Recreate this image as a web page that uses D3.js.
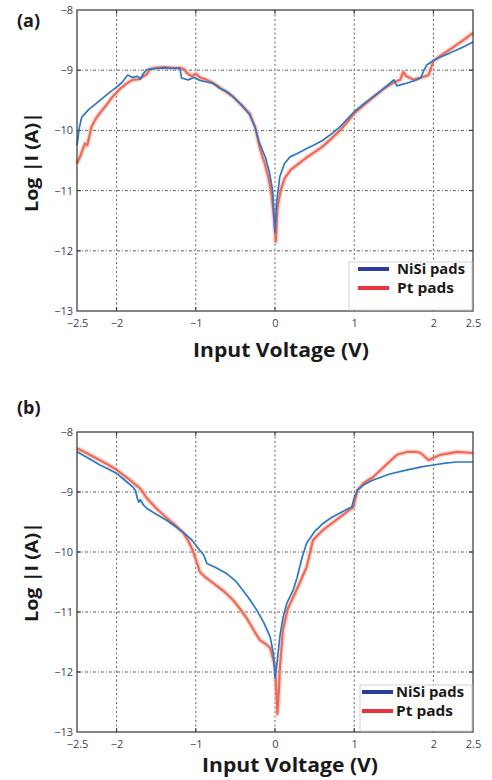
<!DOCTYPE html>
<html>
<head>
<meta charset="utf-8">
<script src="https://cdn.jsdelivr.net/npm/d3@7/dist/d3.min.js"></script>
<style>
html,body{margin:0;padding:0;background:#fff;}
svg{display:block;}
text{font-family:"Open Sans","DejaVu Sans",sans-serif;}
</style>
</head>
<body>
<svg id="chart" width="492" height="780"></svg>
<script>
// ---------- DATA ----------
const xTicks = [-2.5, -2, -1, 0, 1, 2, 2.5];
const yTicks = [-8, -9, -10, -11, -12, -13];
const xGrid = [-2, -1, 0, 1, 2];
const yGrid = [-9, -10, -11, -12];
const seriesNames = ["NiSi pads", "Pt pads"];

// Panel (a)
const aNiSiV = [-2.5,-2.47,-2.44,-2.35,-2.21,-2.1,-2.0,-1.93,-1.86,-1.8,-1.74,-1.7,-1.66,-1.62,-1.5,-1.4,-1.3,-1.2,-1.18,-1.1,-1.02,-0.95,-0.85,-0.78,-0.7,-0.6,-0.53,-0.42,-0.32,-0.25,-0.2,-0.12,-0.07,-0.03,0.0,0.02,0.06,0.12,0.19,0.3,0.4,0.5,0.61,0.72,0.82,0.9,1.0,1.12,1.24,1.38,1.5,1.54,1.65,1.75,1.84,1.88,1.92,2.0,2.09,2.2,2.3,2.4,2.5];
const aNiSiI = [-10.25,-9.95,-9.78,-9.65,-9.5,-9.38,-9.28,-9.2,-9.08,-9.12,-9.1,-9.15,-9.05,-8.99,-8.97,-8.96,-8.97,-8.97,-9.13,-9.16,-9.12,-9.17,-9.2,-9.22,-9.3,-9.36,-9.44,-9.58,-9.74,-9.95,-10.2,-10.45,-10.7,-11.0,-11.7,-11.2,-10.77,-10.55,-10.44,-10.37,-10.3,-10.24,-10.16,-10.05,-9.94,-9.83,-9.69,-9.56,-9.44,-9.3,-9.16,-9.26,-9.22,-9.18,-9.13,-9.0,-8.91,-8.84,-8.78,-8.72,-8.66,-8.6,-8.53];
const aPtV = [-2.5,-2.45,-2.4,-2.37,-2.32,-2.26,-2.21,-2.13,-2.05,-1.95,-1.87,-1.8,-1.72,-1.66,-1.62,-1.58,-1.5,-1.4,-1.3,-1.2,-1.15,-1.11,-1.05,-1.0,-0.95,-0.88,-0.8,-0.74,-0.65,-0.53,-0.43,-0.32,-0.25,-0.19,-0.13,-0.08,-0.04,-0.01,0.01,0.03,0.07,0.12,0.2,0.3,0.4,0.5,0.6,0.7,0.82,0.9,1.0,1.12,1.24,1.38,1.5,1.58,1.62,1.66,1.75,1.85,1.94,2.0,2.1,2.26,2.4,2.5];
const aPtI = [-10.55,-10.4,-10.22,-10.25,-9.95,-9.8,-9.71,-9.58,-9.44,-9.3,-9.22,-9.16,-9.15,-9.1,-9.07,-8.98,-8.96,-8.95,-8.96,-8.96,-8.98,-9.05,-9.1,-9.06,-9.12,-9.15,-9.2,-9.25,-9.33,-9.44,-9.57,-9.72,-9.95,-10.3,-10.55,-10.8,-11.1,-11.5,-11.85,-11.3,-11.0,-10.8,-10.65,-10.55,-10.45,-10.36,-10.27,-10.15,-10.0,-9.88,-9.72,-9.58,-9.45,-9.3,-9.2,-9.16,-9.03,-9.1,-9.16,-9.12,-9.08,-8.85,-8.75,-8.61,-8.48,-8.38];

// Panel (b)
const bNiSiV = [-2.5,-2.35,-2.21,-2.1,-2.0,-1.9,-1.8,-1.76,-1.74,-1.72,-1.7,-1.66,-1.62,-1.5,-1.37,-1.26,-1.16,-1.05,-0.95,-0.9,-0.86,-0.75,-0.61,-0.5,-0.44,-0.33,-0.23,-0.14,-0.06,-0.02,0.0,0.03,0.06,0.1,0.15,0.23,0.28,0.34,0.4,0.5,0.61,0.72,0.82,0.92,0.97,1.0,1.04,1.12,1.24,1.45,1.67,1.85,2.0,2.15,2.3,2.5];
const bNiSiI = [-8.33,-8.44,-8.55,-8.62,-8.69,-8.8,-8.91,-8.98,-9.1,-9.17,-9.13,-9.22,-9.27,-9.37,-9.47,-9.57,-9.67,-9.8,-9.97,-10.05,-10.19,-10.26,-10.36,-10.48,-10.58,-10.77,-10.97,-11.18,-11.42,-11.7,-12.1,-11.8,-11.42,-11.1,-10.85,-10.63,-10.42,-10.1,-9.85,-9.66,-9.52,-9.42,-9.35,-9.28,-9.25,-9.1,-8.97,-8.88,-8.8,-8.7,-8.63,-8.58,-8.55,-8.52,-8.5,-8.5];
const bPtV = [-2.5,-2.35,-2.21,-2.1,-2.0,-1.85,-1.71,-1.66,-1.62,-1.5,-1.37,-1.26,-1.16,-1.1,-1.04,-0.98,-0.95,-0.88,-0.78,-0.65,-0.53,-0.44,-0.35,-0.27,-0.19,-0.12,-0.06,0.0,0.02,0.03,0.05,0.06,0.1,0.16,0.23,0.3,0.4,0.48,0.61,0.72,0.82,0.92,0.99,1.04,1.12,1.24,1.4,1.54,1.67,1.78,1.84,1.94,2.0,2.09,2.3,2.5];
const bPtI = [-8.27,-8.37,-8.47,-8.55,-8.63,-8.78,-8.93,-9.02,-9.1,-9.27,-9.43,-9.55,-9.68,-9.8,-9.97,-10.2,-10.33,-10.42,-10.52,-10.65,-10.8,-10.95,-11.12,-11.3,-11.47,-11.53,-11.6,-11.9,-12.4,-12.7,-12.3,-11.97,-11.3,-10.95,-10.75,-10.55,-10.25,-9.8,-9.63,-9.52,-9.42,-9.32,-9.25,-8.97,-8.85,-8.75,-8.55,-8.38,-8.33,-8.33,-8.35,-8.47,-8.43,-8.38,-8.33,-8.35];

// ---------- DRAW ----------
const svg = d3.select("#chart");
const fmt = v => (v < 0 ? "\u2212" : "") + Math.abs(v);

function zip(xs, ys) { return xs.map((x, i) => [x, ys[i]]); }

function drawPanel(cfg) {
  const x = d3.scaleLinear().domain([-2.5, 2.5]).range([77, 473]);
  const y = d3.scaleLinear().domain([-13, -8]).range([cfg.bottom, cfg.top]);
  const g = svg.append("g");

  // plot background
  g.append("rect").attr("x", x(-2.5)).attr("y", y(-8))
    .attr("width", x(2.5) - x(-2.5)).attr("height", y(-13) - y(-8))
    .attr("fill", "#fff");

  // grid
  g.selectAll(".vg").data(xGrid).join("line")
    .attr("x1", d => x(d)).attr("x2", d => x(d))
    .attr("y1", y(-8)).attr("y2", y(-13))
    .attr("stroke", "#222").attr("stroke-width", 1)
    .attr("stroke-dasharray", "2,2.5").attr("opacity", 0.7);
  g.selectAll(".hg").data(yGrid).join("line")
    .attr("x1", x(-2.5)).attr("x2", x(2.5))
    .attr("y1", d => y(d)).attr("y2", d => y(d))
    .attr("stroke", "#222").attr("stroke-width", 1)
    .attr("stroke-dasharray", "3,2,1,2").attr("opacity", 0.7);

  // axes with tick labels
  const xAxis = d3.axisBottom(x).tickValues(xTicks).tickFormat(fmt).tickSize(0).tickPadding(8);
  const gx = g.append("g").attr("transform", `translate(0,${y(-13)})`).call(xAxis);
  gx.select(".domain").remove();
  gx.selectAll("text").attr("font-size", 11).attr("fill", "#3a4455");

  const yAxis = d3.axisLeft(y).tickValues(yTicks).tickFormat(fmt).tickSize(0).tickPadding(4);
  const gy = g.append("g").attr("transform", `translate(${x(-2.5)},0)`).call(yAxis);
  gy.select(".domain").remove();
  gy.selectAll("text").attr("font-size", 11).attr("fill", "#3a4455");

  // small tick marks inside frame
  xGrid.forEach(v => {
    g.append("line").attr("x1", x(v)).attr("x2", x(v)).attr("y1", y(-13)).attr("y2", y(-13) - 4).attr("stroke", "#333");
    g.append("line").attr("x1", x(v)).attr("x2", x(v)).attr("y1", y(-8)).attr("y2", y(-8) + 4).attr("stroke", "#333");
  });
  yGrid.forEach(v => {
    g.append("line").attr("x1", x(-2.5)).attr("x2", x(-2.5) + 4).attr("y1", y(v)).attr("y2", y(v)).attr("stroke", "#333");
    g.append("line").attr("x1", x(2.5)).attr("x2", x(2.5) - 4).attr("y1", y(v)).attr("y2", y(v)).attr("stroke", "#333");
  });

  // curves
  const line = d3.line().x(d => x(d[0])).y(d => y(d[1]));
  const pt = zip(cfg.ptV, cfg.ptI);
  const ni = zip(cfg.niV, cfg.niI);
  g.append("path").datum(pt).attr("d", line).attr("fill", "none")
    .attr("stroke", "#f4a89a").attr("stroke-width", 5).attr("opacity", 0.45).attr("stroke-linejoin", "round");
  g.append("path").datum(pt).attr("d", line).attr("fill", "none")
    .attr("stroke", "#ee6a58").attr("stroke-width", 2.2).attr("stroke-linejoin", "round");
  g.append("path").datum(ni).attr("d", line).attr("fill", "none")
    .attr("stroke", "#2b78c6").attr("stroke-width", 1.7).attr("stroke-linejoin", "round");

  // frame
  g.append("rect").attr("x", x(-2.5)).attr("y", y(-8))
    .attr("width", x(2.5) - x(-2.5)).attr("height", y(-13) - y(-8))
    .attr("fill", "none").attr("stroke", "#333").attr("stroke-width", 1.2);

  // legend
  const L = cfg.legend;
  g.append("rect").attr("x", L.x).attr("y", L.y).attr("width", x(2.5) - L.x - 1).attr("height", y(-13) - L.y - 1)
    .attr("fill", "#fff").attr("stroke", "#c8c8c8").attr("stroke-width", 0.8);
  const legColors = ["#2a3c9e", "#e8343a"];
  seriesNames.forEach((name, i) => {
    const ly = L.y + 7 + i * 19;
    g.append("line").attr("x1", L.lx).attr("x2", L.lx + 31).attr("y1", ly).attr("y2", ly)
      .attr("stroke", legColors[i]).attr("stroke-width", 4);
    g.append("text").attr("x", L.tx).attr("y", ly + 5).text(name)
      .attr("font-size", 14).attr("font-weight", 700).attr("fill", "#1a1a1a")
      .attr("textLength", i === 0 ? 68 : 57).attr("lengthAdjust", "spacingAndGlyphs");
  });

  // panel letter
  svg.append("text").attr("x", 17).attr("y", cfg.letterY).text(cfg.letter)
    .attr("font-size", 18).attr("font-weight", 700).attr("fill", "#1a1a1a");

  // axis titles
  svg.append("text").attr("x", cfg.xtX).attr("y", cfg.xtY).attr("text-anchor", "middle")
    .text("Input Voltage (V)").attr("font-size", 20).attr("font-weight", 700).attr("fill", "#1a1a1a")
    .attr("textLength", 176).attr("lengthAdjust", "spacingAndGlyphs");
  svg.append("text").attr("transform", `translate(38,${cfg.ytY}) rotate(-90)`).attr("text-anchor", "middle")
    .text("Log |I (A)|").attr("font-size", 18).attr("font-weight", 700).attr("fill", "#1a1a1a")
    .attr("textLength", 100).attr("lengthAdjust", "spacingAndGlyphs");
}

drawPanel({
  top: 10, bottom: 311, letter: "(a)", letterY: 27,
  niV: aNiSiV, niI: aNiSiI, ptV: aPtV, ptI: aPtI,
  legend: { x: 349, y: 262, lx: 358, tx: 397 },
  xtX: 281, xtY: 357, ytY: 162
});
drawPanel({
  top: 432, bottom: 732, letter: "(b)", letterY: 414,
  niV: bNiSiV, niI: bNiSiI, ptV: bPtV, ptI: bPtI,
  legend: { x: 360, y: 685, lx: 362, tx: 396 },
  xtX: 290, xtY: 772, ytY: 572
});
</script>
</body>
</html>
